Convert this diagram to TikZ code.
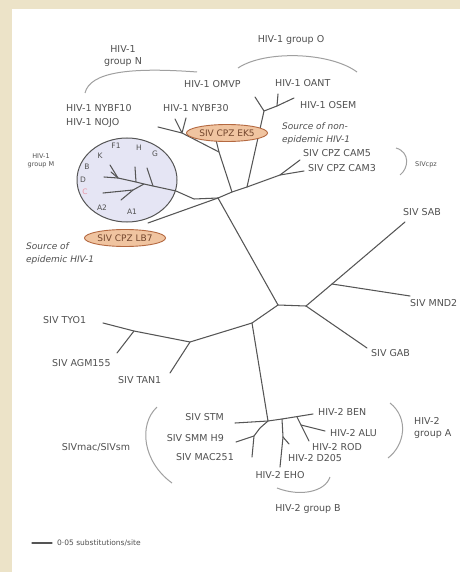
\documentclass[tikz,border=0pt]{standalone}
\usepackage{fontspec}
\setmainfont{DejaVu Sans}
\usepackage{tikz}
\usetikzlibrary{shapes.geometric}

\definecolor{slidebeige}{RGB}{236,227,200}
\definecolor{treeline}{RGB}{85,85,85}
\definecolor{labelgray}{RGB}{80,80,80}
\definecolor{peach}{RGB}{240,196,160}
\definecolor{peachline}{RGB}{180,105,65}
\definecolor{peachtext}{RGB}{115,70,45}
\definecolor{lavender}{RGB}{229,229,244}
\definecolor{subtypec}{RGB}{235,150,165}
\definecolor{bracketgray}{RGB}{160,160,160}

\begin{document}
\begin{tikzpicture}[x=1pt,y=-1pt,
    branch/.style={treeline, line width=1.05pt, line cap=round, line join=round},
    lbl/.style={text=labelgray, font=\fontsize{9.5}{12}\selectfont, inner sep=0pt},
    srctext/.style={text=labelgray, font=\fontsize{9}{13}\selectfont\itshape, inner sep=0pt, align=left},
    tiny/.style={text=labelgray, font=\fontsize{6.5}{7.5}\selectfont, inner sep=0pt, align=center},
    ltr/.style={text=labelgray, font=\fontsize{7.5}{8}\selectfont, inner sep=0pt},
    bracket/.style={bracketgray, line width=1pt},
    cpzbox/.style={ellipse, draw=peachline, fill=peach, line width=0.9pt, inner sep=0pt,
        minimum width=81pt, minimum height=17pt, text=peachtext, font=\fontsize{9}{10}\selectfont}]

            \useasboundingbox (0,0) rectangle (460,572);
            \fill[slidebeige] (0,0) rectangle (460,572);
            \fill[white] (12,9) rectangle (460,572);

            \node[ellipse, draw=treeline, fill=lavender, line width=1pt, minimum width=100pt, minimum height=84pt] (grpM) at (127,180) {};

            \coordinate (c1) at (278,305);
            \coordinate (c2) at (306,306);
            \coordinate (j1) at (218,198);
            \coordinate (j2) at (232,192);
            \coordinate (j3) at (247,187);
            \coordinate (j4) at (280,175);
            \coordinate (cam5) at (300,160);
            \coordinate (cam3) at (304,171);
            \coordinate (nj) at (219,152);
            \coordinate (ek5tip) at (216,140);
            \coordinate (n1) at (182,133);
            \coordinate (ntip) at (158,127);
            \coordinate (nv1) at (175,119);
            \coordinate (nv2) at (186,118);
            \coordinate (o0) at (264,111);
            \coordinate (omvp) at (255,97);
            \coordinate (o1) at (277,106);
            \coordinate (oant) at (278,94);
            \coordinate (osem) at (294,98);
            \coordinate (m0) at (194,199);
            \coordinate (lb7tip) at (148,223);

            \coordinate (mt) at (176,191);
            \coordinate (mg) at (153,186);
            \coordinate (ma) at (144,184);
            \coordinate (mh) at (136,182);
            \coordinate (mv) at (118,178);
            \coordinate (gtip) at (147,168);
            \coordinate (htip) at (135,167);
            \coordinate (f1tip) at (110,165);
            \coordinate (ktip) at (111,172);
            \coordinate (btip) at (104,177);
            \coordinate (aj) at (133,190);
            \coordinate (atip) at (103,193);
            \coordinate (a1tip) at (121,200);

            \coordinate (l1) at (252,323);
            \coordinate (t1) at (190,342);
            \coordinate (t0) at (134,331);
            \coordinate (tyo) at (103,323);
            \coordinate (agm) at (117,353);
            \coordinate (tan) at (170,373);
            \coordinate (gab) at (367,348);
            \coordinate (s1) at (332,284);
            \coordinate (sab) at (405,222);
            \coordinate (mnd) at (410,296);

            \coordinate (h0) at (268,421);
            \coordinate (stm) at (235,423);
            \coordinate (sm1) at (260,428);
            \coordinate (sm2) at (254,436);
            \coordinate (smm) at (236,442);
            \coordinate (mac) at (252,457);
            \coordinate (h1) at (282,419);
            \coordinate (ben) at (313,414);
            \coordinate (e1) at (283,437);
            \coordinate (eho) at (280,467);
            \coordinate (d205) at (289,444);
            \coordinate (al1) at (297,417);
            \coordinate (al2) at (301,425);
            \coordinate (alu) at (325,431);
            \coordinate (rod) at (309,441);

            \draw[branch] (tyo) -- (t0) -- (t1) -- (l1) -- (c1) -- (c2) -- (s1) -- (sab);
            \draw[branch] (t0) -- (agm);
            \draw[branch] (t1) -- (tan);
            \draw[branch] (s1) -- (mnd);
            \draw[branch] (c2) -- (gab);

            \draw[branch] (c1) -- (j1) -- (j2) -- (j3) -- (j4) -- (cam5);
            \draw[branch] (j4) -- (cam3);
            \draw[branch] (j2) -- (nj) -- (ek5tip);
            \draw[branch] (nj) -- (n1) -- (ntip);
            \draw[branch] (nv1) -- (n1) -- (nv2);
            \draw[branch] (j3) -- (o0) -- (omvp);
            \draw[branch] (o0) -- (o1) -- (oant);
            \draw[branch] (o1) -- (osem);
            \draw[branch] (j1) -- (m0) -- (mt) -- (mg) -- (ma) -- (mh) -- (mv);
            \draw[branch] (j1) -- (lb7tip);

            \draw[branch] (mg) -- (gtip);
            \draw[branch] (mh) -- (htip);
            \draw[branch] (f1tip) -- (mv) -- (btip);
            \draw[branch] (mv) -- (ktip);
            \draw[branch] (ma) -- (aj) -- (atip);
            \draw[branch] (aj) -- (a1tip);

            \draw[branch] (l1) -- (h0);
            \draw[branch] (stm) -- (h0) -- (h1) -- (ben);
            \draw[branch] (h0) -- (sm1) -- (sm2) -- (mac);
            \draw[branch] (sm2) -- (smm);
            \draw[branch] (h1) -- (e1) -- (eho);
            \draw[branch] (e1) -- (d205);
            \draw[branch] (al1) -- (al2) -- (alu);
            \draw[branch] (al2) -- (rod);

            \node[cpzbox] (ek5) at (227,133) {SIV CPZ EK5};
            \node[cpzbox] (lb7) at (125,238) {SIV CPZ LB7};

            \node[ltr] (subK) at (100,156) {K};
            \node[ltr] (subF) at (116,146) {F1};
            \node[ltr] (subH) at (139,148) {H};
            \node[ltr] (subG) at (155,154) {G};
            \node[ltr] (subB) at (87,167) {B};
            \node[ltr] (subD) at (83,180) {D};
            \node[ltr, text=subtypec] (subC) at (85,192) {C};
            \node[ltr] (subA2) at (102,208) {A2};
            \node[ltr] (subA1) at (132,212) {A1};

            \node[lbl, anchor=west] (lnybf10) at (66,108) {HIV-1 NYBF10};
            \node[lbl, anchor=west] (lnojo) at (66,123) {HIV-1 NOJO};
            \node[lbl, anchor=west] (lnybf30) at (163,108) {HIV-1 NYBF30};
            \node[lbl, anchor=west] (lomvp) at (184,84) {HIV-1 OMVP};
            \node[lbl, anchor=west] (loant) at (275,83) {HIV-1 OANT};
            \node[lbl, anchor=west] (losem) at (300,105) {HIV-1 OSEM};
            \node[srctext, anchor=north west] (lsrcnon) at (282,122) {Source of non-\\epidemic HIV-1};
            \node[lbl, anchor=west] (lcam5) at (303,153) {SIV CPZ CAM5};
            \node[lbl, anchor=west] (lcam3) at (308,168) {SIV CPZ CAM3};
            \node[tiny, anchor=west] (lsivcpz) at (415,165) {SIVcpz};
            \node[lbl, anchor=west] (lsab) at (403,212) {SIV SAB};
            \node[lbl, anchor=west] (lmnd) at (410,303) {SIV MND2};
            \node[lbl, anchor=west] (lgab) at (371,353) {SIV GAB};
            \node[lbl, anchor=west] (ltyo) at (43,320) {SIV TYO1};
            \node[lbl, anchor=west] (lagm) at (52,363) {SIV AGM155};
            \node[lbl, anchor=west] (ltan) at (118,380) {SIV TAN1};
            \node[lbl, anchor=east] (lstm) at (224,417) {SIV STM};
            \node[lbl, anchor=east] (lsmm) at (224,438) {SIV SMM H9};
            \node[lbl, anchor=east] (lmac) at (234,457) {SIV MAC251};
            \node[lbl, anchor=west] (lben) at (318,412) {HIV-2 BEN};
            \node[lbl, anchor=west] (lalu) at (330,433) {HIV-2 ALU};
            \node[lbl, anchor=west] (lrod) at (312,447) {HIV-2 ROD};
            \node[lbl, anchor=west] (ld205) at (288,458) {HIV-2 D205};
            \node[lbl] (leho) at (280,475) {HIV-2 EHO};

            \node[lbl, align=center] (lgrpN) at (123,56) {HIV-1\\group N};
            \node[lbl] (lgrpO) at (291,40) {HIV-1 group O};
            \node[tiny] (lgrpM) at (41,161) {HIV-1\\group M};
            \node[srctext, anchor=north west] (lsrcepi) at (26,242) {Source of\\epidemic HIV-1};
            \node[lbl] (lsivmac) at (96,447) {SIVmac/SIVsm};
            \node[lbl, align=left, anchor=west] (lgrpA) at (414,428) {HIV-2\\group A};
            \node[lbl] (lgrpB) at (308,509) {HIV-2 group B};

            \coordinate (bn0) at (85,93);
            \coordinate (bn1) at (197,72);
            \coordinate (bo0) at (238,68);
            \coordinate (bo1) at (357,72);
            \coordinate (bc0) at (396,148);
            \coordinate (bc1) at (400,175);
            \coordinate (bs0) at (157,407);
            \coordinate (bs1) at (172,483);
            \coordinate (ba0) at (390,403);
            \coordinate (ba1) at (388,458);
            \coordinate (bb0) at (277,488);
            \coordinate (bb1) at (330,477);
            \draw[bracket] (bn0) .. controls (90,72) and (130,67) .. (bn1);
            \draw[bracket] (bo0) .. controls (265,50) and (330,52) .. (bo1);
            \draw[bracket] (bc0) .. controls (410,152) and (409,168) .. (bc1);
            \draw[bracket] (bs0) .. controls (138,425) and (143,462) .. (bs1);
            \draw[bracket] (ba0) .. controls (409,418) and (405,445) .. (ba1);
            \draw[bracket] (bb0) .. controls (300,497) and (325,492) .. (bb1);

            \coordinate (sb0) at (32,543);
            \coordinate (sb1) at (52,543);
            \draw[branch] (sb0) -- (sb1);
            \node[text=labelgray, font=\fontsize{7.5}{8}\selectfont, inner sep=0pt, anchor=west] (lscale) at (57,543) {0·05 substitutions/site};

        \end{tikzpicture}
\end{document}
